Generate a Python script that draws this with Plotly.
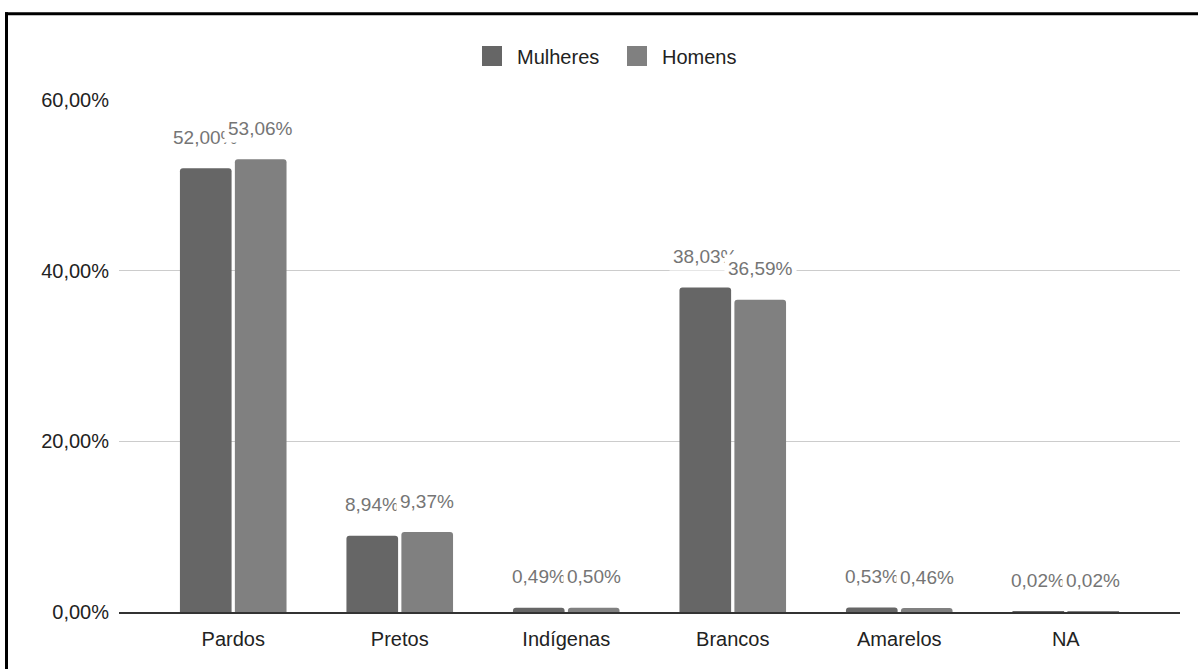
import plotly.graph_objects as go

# Population share by colour/race, women vs. men (%)
categorias = ["Pardos", "Pretos", "Indígenas", "Brancos", "Amarelos", "NA"]
mulheres = [52.00, 8.94, 0.49, 38.03, 0.53, 0.02]
homens = [53.06, 9.37, 0.50, 36.59, 0.46, 0.02]
rotulos_mulheres = ["52,00%", "8,94%", "0,49%", "38,03%", "0,53%", "0,02%"]
rotulos_homens = ["53,06%", "9,37%", "0,50%", "36,59%", "0,46%", "0,02%"]
y_ticks = [0, 20, 40, 60]
y_tick_text = ["0,00%", "20,00%", "40,00%", "60,00%"]

COR_MULHERES = "#666666"
COR_HOMENS = "#808080"
FONTE = "Arial, 'Liberation Sans', sans-serif"

W, H = 1201, 671
ML, MR, MT, MB = 119, 21, 100, 59
PW, PH = W - ML - MR, H - MT - MB

fig = go.Figure()
fig.add_trace(go.Bar(name="Mulheres", x=categorias, y=mulheres,
                     marker=dict(color=COR_MULHERES, line=dict(width=0)),
                     showlegend=False, hoverinfo="skip"))
fig.add_trace(go.Bar(name="Homens", x=categorias, y=homens,
                     marker=dict(color=COR_HOMENS, line=dict(width=0)),
                     showlegend=False, hoverinfo="skip"))

# Legend entries with larger square swatches
for nome, cor in (("Mulheres", COR_MULHERES), ("Homens", COR_HOMENS)):
    fig.add_trace(go.Scatter(x=[None], y=[None], mode="markers", name=nome,
                             marker=dict(symbol="square", size=16, color=cor,
                                         line=dict(color=cor, width=4))))

# Value labels above each bar, with white background boxes
x_range = [-0.686, 5.686]
px_per_cat = PW / (x_range[1] - x_range[0])
slot = 0.33 * px_per_cat
for serie, rot, sh in ((mulheres, rotulos_mulheres, -slot / 2),
                       (homens, rotulos_homens, slot / 2)):
    for c, v, t in zip(categorias, serie, rot):
        fig.add_annotation(x=c, y=v, text=t, showarrow=False,
                           xshift=sh, yshift=31, yanchor="middle",
                           bgcolor="white", borderpad=3,
                           font=dict(family=FONTE, size=19, color="#757575"))

# Outer frame: filled strips along the top and left edges
def px_to_paper_x(px):
    return (px - ML) / PW

def px_to_paper_y(py):
    return (H - MB - py) / PH

fig.add_shape(type="rect", xref="paper", yref="paper",
              x0=px_to_paper_x(5), x1=px_to_paper_x(1198),
              y0=px_to_paper_y(15.3), y1=px_to_paper_y(12.3),
              fillcolor="black", line=dict(width=0), layer="below")
fig.add_shape(type="rect", xref="paper", yref="paper",
              x0=px_to_paper_x(5), x1=px_to_paper_x(8),
              y0=px_to_paper_y(669), y1=px_to_paper_y(12.3),
              fillcolor="black", line=dict(width=0), layer="below")

fig.update_layout(
    width=W, height=H,
    margin=dict(l=ML, r=MR, t=MT, b=MB, pad=0),
    paper_bgcolor="white", plot_bgcolor="white",
    barmode="group", bargap=0.34, bargroupgap=0.06, barcornerradius=3,
    font=dict(family=FONTE, size=19, color="#222222"),
    legend=dict(orientation="h", xref="container", yref="container",
                x=467 / W, xanchor="left", y=1 - 56 / H, yanchor="middle",
                font=dict(family=FONTE, size=20, color="#222222"),
                entrywidth=90, itemwidth=40, bgcolor="rgba(0,0,0,0)"),
    xaxis=dict(range=x_range, showgrid=False, zeroline=False,
               showline=True, linecolor="#333333", linewidth=2,
               ticks="", ticklabelstandoff=8,
               tickfont=dict(family=FONTE, size=20, color="#222222")),
    yaxis=dict(range=[0, 60], tickvals=y_ticks, ticktext=y_tick_text,
               showgrid=True, gridcolor="#cccccc", gridwidth=1,
               zeroline=False, showline=False, ticks="", ticklabelstandoff=9,
               tickfont=dict(family=FONTE, size=20, color="#222222")),
)

fig.write_html("out.html")
